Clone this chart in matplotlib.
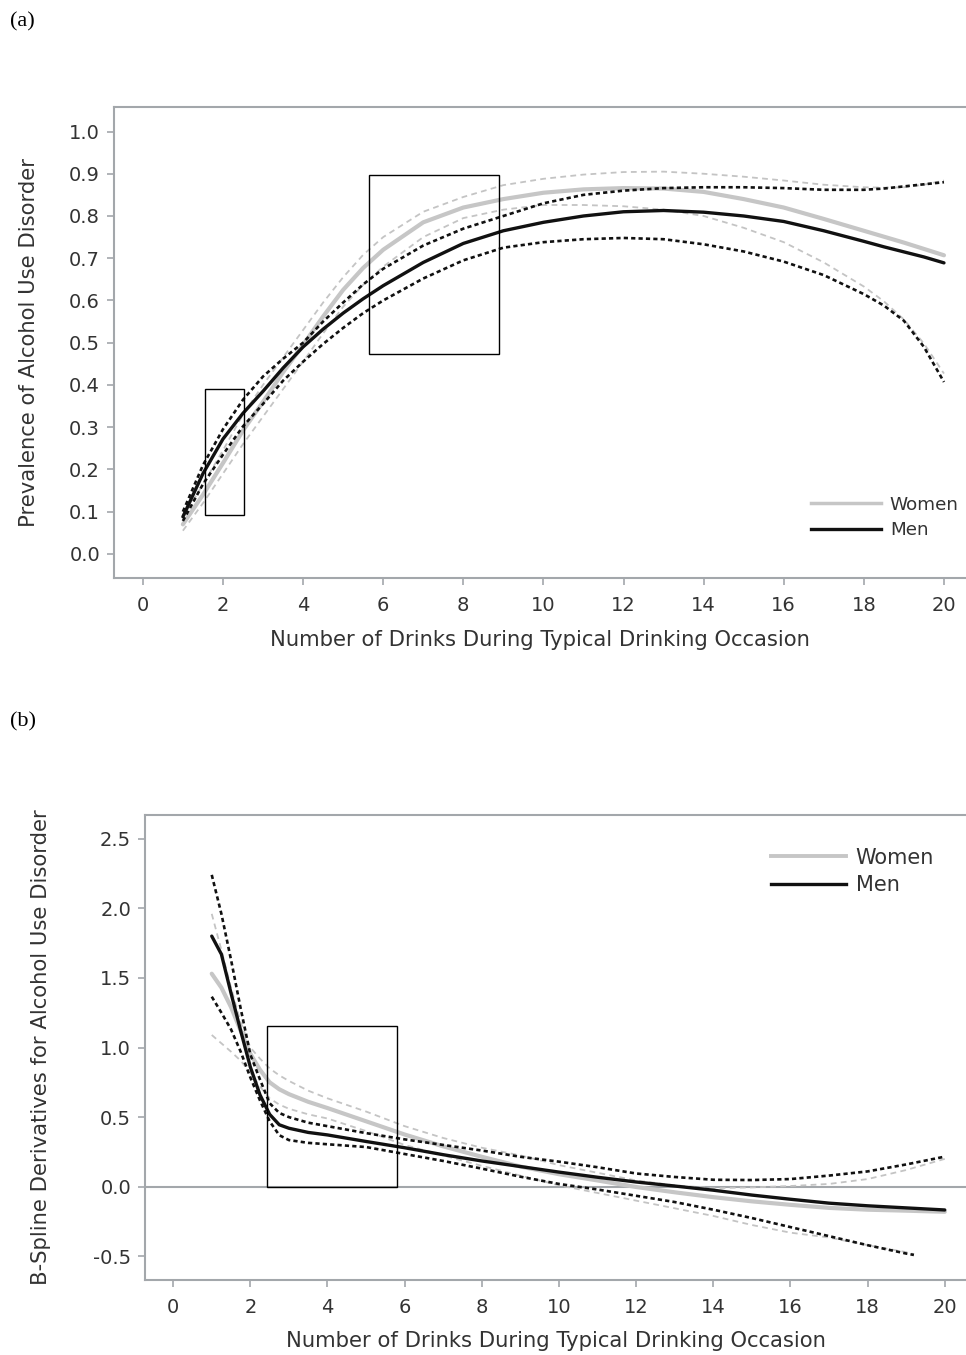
import matplotlib
matplotlib.use("Agg")
import matplotlib.pyplot as plt
from matplotlib.patches import Rectangle
from matplotlib.lines import Line2D

# ---------------- data: panel (a) prevalence ----------------
x_a = [1, 1.5, 2, 2.5, 3, 3.5, 4, 4.5, 5, 5.5, 6, 7, 8, 9, 10, 11, 12, 13, 14, 15, 16, 17, 18, 18.5, 19, 19.5, 20]
men_a = [0.088, 0.19, 0.272, 0.333, 0.385, 0.44, 0.49, 0.532, 0.57, 0.604, 0.635, 0.69, 0.735, 0.765, 0.785,
         0.80, 0.81, 0.813, 0.809, 0.80, 0.787, 0.765, 0.74, 0.727, 0.715, 0.703, 0.689]
men_a_hi = [0.10, 0.21, 0.295, 0.365, 0.42, 0.462, 0.50, 0.55, 0.595, 0.638, 0.675, 0.73, 0.77, 0.80, 0.83,
            0.85, 0.86, 0.866, 0.868, 0.868, 0.866, 0.862, 0.862, 0.865, 0.87, 0.875, 0.88]
men_a_lo = [0.078, 0.165, 0.235, 0.302, 0.355, 0.41, 0.455, 0.497, 0.535, 0.57, 0.60, 0.652, 0.695, 0.725, 0.738,
            0.745, 0.748, 0.745, 0.733, 0.716, 0.692, 0.66, 0.615, 0.588, 0.552, 0.49, 0.407]
women_a = [0.07, 0.14, 0.215, 0.292, 0.36, 0.43, 0.495, 0.562, 0.625, 0.677, 0.72, 0.785, 0.82, 0.84, 0.855,
           0.863, 0.866, 0.865, 0.857, 0.84, 0.82, 0.793, 0.765, 0.751, 0.737, 0.722, 0.707]
women_a_hi = [0.085, 0.165, 0.245, 0.33, 0.40, 0.465, 0.53, 0.595, 0.655, 0.708, 0.75, 0.81, 0.845, 0.873, 0.888,
              0.898, 0.904, 0.905, 0.90, 0.893, 0.884, 0.874, 0.868, 0.867, 0.868, 0.874, 0.884]
women_a_lo = [0.055, 0.12, 0.19, 0.26, 0.325, 0.39, 0.455, 0.522, 0.585, 0.637, 0.68, 0.75, 0.795, 0.815, 0.826,
              0.826, 0.823, 0.815, 0.80, 0.772, 0.738, 0.69, 0.633, 0.598, 0.555, 0.498, 0.427]

# ---------------- data: panel (b) derivatives ----------------
x_b = [1, 1.25, 1.5, 1.75, 2, 2.25, 2.5, 2.75, 3, 3.5, 4, 5, 6, 7, 8, 9, 10,
       11, 12, 13, 14, 15, 16, 17, 18, 19, 20]
men_b = [1.80, 1.67, 1.39, 1.12, 0.86, 0.66, 0.52, 0.445, 0.42, 0.39, 0.372, 0.325, 0.28, 0.23,
         0.185, 0.145, 0.105, 0.068, 0.034, 0.005, -0.025, -0.06, -0.09, -0.118, -0.137, -0.152, -0.167]
men_b_hi = [2.24, 1.96, 1.63, 1.28, 0.95, 0.77, 0.60, 0.53, 0.50, 0.46, 0.435, 0.385, 0.34, 0.30,
            0.26, 0.215, 0.18, 0.14, 0.095, 0.07, 0.05, 0.048, 0.055, 0.08, 0.11, 0.16, 0.216]
women_b = [1.53, 1.43, 1.29, 1.12, 0.955, 0.84, 0.75, 0.70, 0.665, 0.61, 0.565, 0.47, 0.375, 0.29,
           0.215, 0.145, 0.09, 0.045, -0.002, -0.04, -0.075, -0.105, -0.13, -0.152, -0.165, -0.172, -0.18]
women_b_hi = [1.96, 1.70, 1.43, 1.18, 1.0, 0.92, 0.85, 0.80, 0.76, 0.69, 0.635, 0.54, 0.435, 0.35,
              0.28, 0.225, 0.155, 0.10, 0.045, 0.01, -0.01, -0.005, 0.005, 0.02, 0.055, 0.12, 0.20]
x_b_lo = [1, 1.25, 1.5, 1.75, 2, 2.25, 2.5, 2.75, 3, 3.5, 4, 5, 6, 7, 8, 9, 10,
          11, 12, 13, 14, 15, 16, 17, 18, 19, 19.2]
men_b_lo = [1.365, 1.25, 1.13, 0.97, 0.785, 0.62, 0.47, 0.37, 0.335, 0.315, 0.305, 0.285, 0.235, 0.185,
            0.13, 0.072, 0.02, -0.02, -0.065, -0.11, -0.165, -0.225, -0.29, -0.355, -0.42, -0.48, -0.49]
women_b_lo = [1.09, 1.03, 0.97, 0.905, 0.82, 0.72, 0.635, 0.59, 0.56, 0.52, 0.49, 0.40, 0.30, 0.225,
              0.15, 0.08, 0.01, -0.045, -0.10, -0.155, -0.21, -0.275, -0.33, -0.365, -0.42, -0.47, -0.485]

labels = ["Women", "Men"]
x_ticks = list(range(0, 21, 2))
y_ticks_a = [round(0.1 * i, 1) for i in range(11)]
y_ticks_b = [-0.5, 0.0, 0.5, 1.0, 1.5, 2.0, 2.5]

# ---------------- styling ----------------
SANS = ["DejaVu Sans"]
SERIF = ["Liberation Serif", "DejaVu Serif"]
plt.rcParams["font.family"] = SANS
SPINE = "#a3a7ab"
TXT = "#333333"
WOMEN_C = "#c6c6c6"
WOMEN_DASH_C = "#c4c4c4"
MEN_C = "#111111"
FS_TICK = 14
FS_LAB = 15.2

fig = plt.figure(figsize=(9.66, 13.55), dpi=100)

W, H = 966, 1355
def axes_rect(l, r, t, b):
    return [l / W, 1 - b / H, (r - l) / W, (b - t) / H]

ax_a = fig.add_axes(axes_rect(114, 966, 107, 578))
ax_b = fig.add_axes(axes_rect(145, 966, 815, 1280))


def style(ax):
    for s in ["left", "bottom", "top"]:
        ax.spines[s].set_color(SPINE)
        ax.spines[s].set_linewidth(1.5)
    ax.spines["right"].set_visible(False)
    ax.tick_params(axis="both", colors=SPINE, length=5, width=1.2, direction="out",
                   labelsize=FS_TICK, labelcolor=TXT, pad=5)
    ax.tick_params(axis="x", pad=8)


def draw(ax, x, lo_x, m, mh, ml, w, wh, wl):
    ax.plot(x, wh, color=WOMEN_DASH_C, lw=1.3, dashes=(3.2, 2.4), zorder=2)
    ax.plot(lo_x, wl, color=WOMEN_DASH_C, lw=1.3, dashes=(3.2, 2.4), zorder=2)
    ax.plot(x, w, color=WOMEN_C, lw=3.0, zorder=3, solid_capstyle="round")
    ax.plot(x, mh, color=MEN_C, lw=1.9, dashes=(1.6, 1.2), zorder=4)
    ax.plot(lo_x, ml, color=MEN_C, lw=1.9, dashes=(1.6, 1.2), zorder=4)
    ax.plot(x, m, color=MEN_C, lw=2.4, zorder=5, solid_capstyle="round")


# ---------- panel (a) ----------
style(ax_a)
draw(ax_a, x_a, x_a, men_a, men_a_hi, men_a_lo, women_a, women_a_hi, women_a_lo)
ax_a.set_xlim(-0.72, 20.55)
ax_a.set_ylim(-0.057, 1.058)
ax_a.set_xticks(x_ticks)
ax_a.set_yticks(y_ticks_a)
ax_a.set_yticklabels([f"{v:.1f}" for v in y_ticks_a])
ax_a.set_xlabel("Number of Drinks During Typical Drinking Occasion", fontsize=FS_LAB, color=TXT, labelpad=11)
ax_a.set_ylabel("Prevalence of Alcohol Use Disorder", fontsize=FS_LAB, color=TXT, labelpad=22)
ax_a.add_patch(Rectangle((1.54, 0.091), 0.99, 0.30, fill=False, ec="black", lw=1.0, zorder=6))
ax_a.add_patch(Rectangle((5.64, 0.474), 3.24, 0.422, fill=False, ec="black", lw=1.0, zorder=6))
handles = [Line2D([], [], color=WOMEN_C, lw=2.5), Line2D([], [], color=MEN_C, lw=2.4)]
leg = ax_a.legend(handles, labels, loc="upper left", bbox_to_anchor=(0.818, 0.175),
                  frameon=False, fontsize=13.2, handlelength=3.8, handletextpad=0.5,
                  labelspacing=0.42, borderpad=0, borderaxespad=0)
for t in leg.get_texts():
    t.set_color(TXT)

# ---------- panel (b) ----------
style(ax_b)
ax_b.axhline(0, color=SPINE, lw=1.5, zorder=1)
draw(ax_b, x_b, x_b_lo, men_b, men_b_hi, men_b_lo, women_b, women_b_hi, women_b_lo)
ax_b.set_xlim(-0.73, 20.55)
ax_b.set_ylim(-0.67, 2.67)
ax_b.set_xticks(x_ticks)
ax_b.set_yticks(y_ticks_b)
ax_b.set_yticklabels([f"{v:.1f}" for v in y_ticks_b])
ax_b.set_xlabel("Number of Drinks During Typical Drinking Occasion", fontsize=FS_LAB, color=TXT, labelpad=10)
ax_b.set_ylabel("B-Spline Derivatives for Alcohol Use Disorder", fontsize=FS_LAB, color=TXT, labelpad=30)
ax_b.add_patch(Rectangle((2.44, 0.0), 3.37, 1.157, fill=False, ec="black", lw=1.0, zorder=6))
handles_b = [Line2D([], [], color=WOMEN_C, lw=2.8), Line2D([], [], color=MEN_C, lw=2.4)]
leg_b = ax_b.legend(handles_b, labels, loc="upper left", bbox_to_anchor=(0.763, 0.93),
                    frameon=False, fontsize=15, handlelength=3.6, handletextpad=0.45,
                    labelspacing=0.38, borderpad=0, borderaxespad=0)
for t in leg_b.get_texts():
    t.set_color(TXT)

# panel letters
fig.text(10 / W, 1 - 22 / H, "(a)", family=SERIF, fontsize=16, va="center", ha="left", color="black")
fig.text(10 / W, 1 - 722 / H, "(b)", family=SERIF, fontsize=16, va="center", ha="left", color="black")

fig.savefig("out.png", dpi=100)
